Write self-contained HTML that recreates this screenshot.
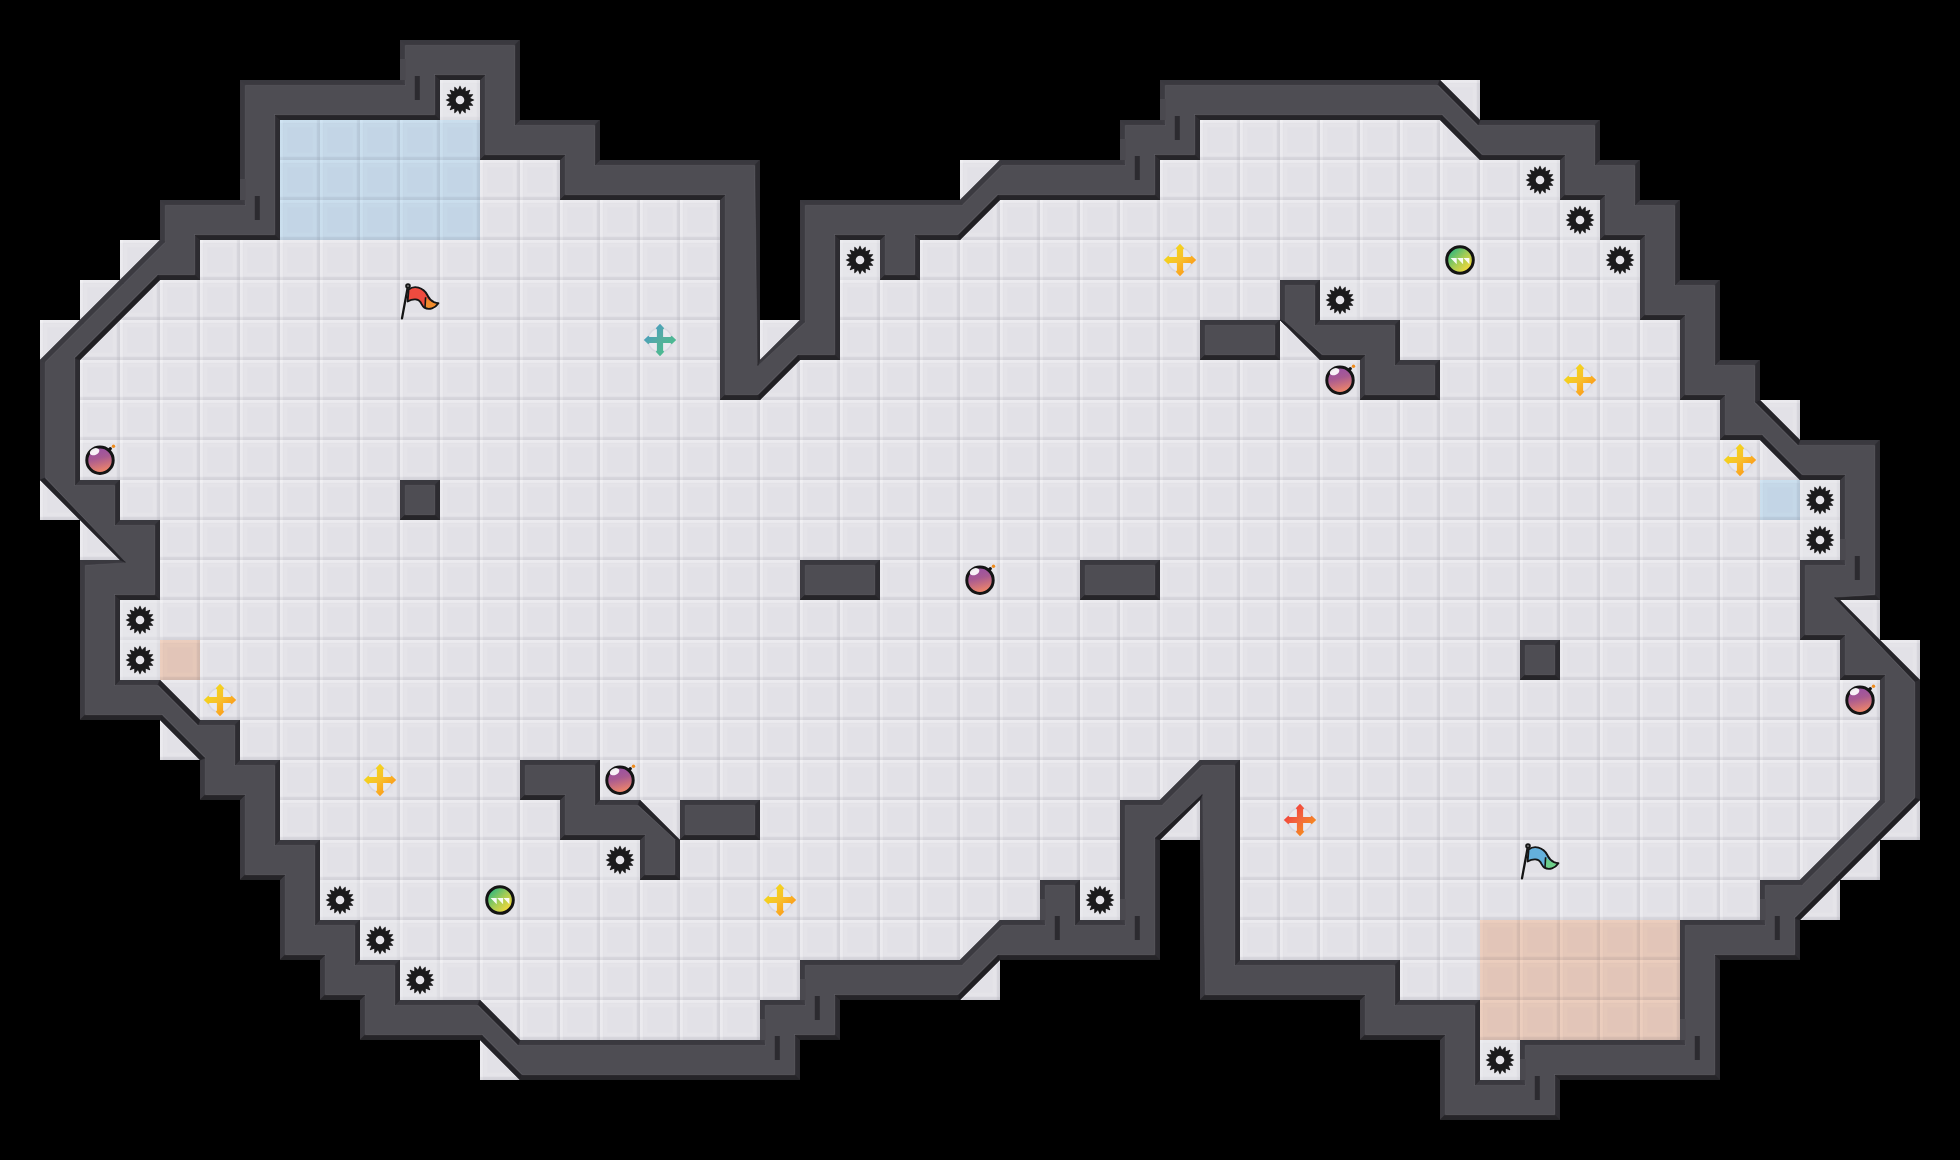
<!DOCTYPE html>
<html><head><meta charset="utf-8"><title>map</title>
<style>html,body{margin:0;padding:0;background:#000;overflow:hidden;width:1960px;height:1160px}svg{display:block;position:absolute;left:0;top:0}</style></head><body>
<svg width="1960" height="1160" viewBox="0 0 1960 1160">
<defs>
<linearGradient id="gt" x1="0" y1="0" x2="0" y2="1"><stop offset="0" stop-color="#fff" stop-opacity=".33"/><stop offset=".72" stop-color="#fff" stop-opacity=".3"/><stop offset="1" stop-color="#fff" stop-opacity="0"/></linearGradient>
<linearGradient id="gl" x1="0" y1="0" x2="1" y2="0"><stop offset="0" stop-color="#fff" stop-opacity=".33"/><stop offset=".72" stop-color="#fff" stop-opacity=".3"/><stop offset="1" stop-color="#fff" stop-opacity="0"/></linearGradient>
<linearGradient id="gb" x1="0" y1="0" x2="0" y2="1"><stop offset="0" stop-color="#6c6c78" stop-opacity="0"/><stop offset=".35" stop-color="#6c6c78" stop-opacity=".095"/><stop offset="1" stop-color="#6c6c78" stop-opacity=".135"/></linearGradient>
<linearGradient id="gr" x1="0" y1="0" x2="1" y2="0"><stop offset="0" stop-color="#6c6c78" stop-opacity="0"/><stop offset=".35" stop-color="#6c6c78" stop-opacity=".095"/><stop offset="1" stop-color="#6c6c78" stop-opacity=".135"/></linearGradient>
<g id="bev"><rect x="0" y="0" width="40" height="3.3" fill="url(#gt)"/><rect x="0" y="0" width="3.3" height="40" fill="url(#gl)"/><rect x="0" y="36.2" width="40" height="3.8" fill="url(#gb)"/><rect x="36.2" y="0" width="3.8" height="40" fill="url(#gr)"/><rect x="5.5" y="5.5" width="29" height="29" fill="none" stroke="#fff" stroke-opacity=".085" stroke-width="3.4"/></g>
<pattern id="pf" width="40" height="40" patternUnits="userSpaceOnUse"><rect width="40" height="40" fill="#e2e1e7"/><use href="#bev"/></pattern>
<g id="sS"><rect width="40" height="40" fill="#e8e7ec" fill-opacity=".5"/><path d="M17.97 9.80 L19.69 5.80 L20.31 5.80 L22.03 9.80 L22.03 9.80 L25.15 6.77 L25.72 7.00 L25.78 11.35 L25.78 11.35 L29.82 9.74 L30.26 10.18 L28.65 14.22 L28.65 14.22 L33.00 14.28 L33.23 14.85 L30.20 17.97 L30.20 17.97 L34.20 19.69 L34.20 20.31 L30.20 22.03 L30.20 22.03 L33.23 25.15 L33.00 25.72 L28.65 25.78 L28.65 25.78 L30.26 29.82 L29.82 30.26 L25.78 28.65 L25.78 28.65 L25.72 33.00 L25.15 33.23 L22.03 30.20 L22.03 30.20 L20.31 34.20 L19.69 34.20 L17.97 30.20 L17.97 30.20 L14.85 33.23 L14.28 33.00 L14.22 28.65 L14.22 28.65 L10.18 30.26 L9.74 29.82 L11.35 25.78 L11.35 25.78 L7.00 25.72 L6.77 25.15 L9.80 22.03 L9.80 22.03 L5.80 20.31 L5.80 19.69 L9.80 17.97 L9.80 17.97 L6.77 14.85 L7.00 14.28 L11.35 14.22 L11.35 14.22 L9.74 10.18 L10.18 9.74 L14.22 11.35 L14.22 11.35 L14.28 7.00 L14.85 6.77 L17.97 9.80Z M24.3 20A4.3 4.3 0 1 0 15.7 20A4.3 4.3 0 1 0 24.3 20Z" fill="#1b1b1c" fill-rule="evenodd"/></g>
<linearGradient id="gY" x1="0" y1="0" x2="1" y2="1"><stop offset=".25" stop-color="#f3d31c"/><stop offset=".5" stop-color="#f8c02c"/><stop offset=".8" stop-color="#fb9c1a"/></linearGradient>
<linearGradient id="gT" x1="0" y1="0" x2="1" y2="1"><stop offset=".2" stop-color="#4a9fbd"/><stop offset=".5" stop-color="#55ae9f"/><stop offset=".85" stop-color="#48be8c"/></linearGradient>
<linearGradient id="gO" x1="0" y1="0" x2="1" y2="1"><stop offset=".25" stop-color="#f2493a"/><stop offset=".5" stop-color="#f26a3e"/><stop offset=".8" stop-color="#f68a1c"/></linearGradient>
<g id="ring"><circle cx="20" cy="20" r="12" fill="#ececf2" fill-opacity=".75" stroke="#cfd0da" stroke-opacity=".65" stroke-width="1.4"/></g>
<g id="sY"><use href="#ring"/><path d="M20 3.8L24.2 8.3L23.1 9.6L23.1 16.9L30.4 16.9L31.7 15.8L36.2 20L31.7 24.2L30.4 23.1L23.1 23.1L23.1 30.4L24.2 31.7L20 36.2L15.8 31.7L16.9 30.4L16.9 23.1L9.6 23.1L8.3 24.2L3.8 20L8.3 15.8L9.6 16.9L16.9 16.9L16.9 9.6L15.8 8.3Z" fill="url(#gY)"/></g>
<g id="sT"><use href="#ring"/><path d="M20 3.8L24.2 8.3L23.1 9.6L23.1 16.9L30.4 16.9L31.7 15.8L36.2 20L31.7 24.2L30.4 23.1L23.1 23.1L23.1 30.4L24.2 31.7L20 36.2L15.8 31.7L16.9 30.4L16.9 23.1L9.6 23.1L8.3 24.2L3.8 20L8.3 15.8L9.6 16.9L16.9 16.9L16.9 9.6L15.8 8.3Z" fill="url(#gT)"/></g>
<g id="sO"><use href="#ring"/><path d="M20 3.8L24.2 8.3L23.1 9.6L23.1 16.9L30.4 16.9L31.7 15.8L36.2 20L31.7 24.2L30.4 23.1L23.1 23.1L23.1 30.4L24.2 31.7L20 36.2L15.8 31.7L16.9 30.4L16.9 23.1L9.6 23.1L8.3 24.2L3.8 20L8.3 15.8L9.6 16.9L16.9 16.9L16.9 9.6L15.8 8.3Z" fill="url(#gO)"/></g>
<linearGradient id="gB" x1="0" y1="0" x2="0.25" y2="1"><stop offset=".1" stop-color="#9950a6"/><stop offset=".5" stop-color="#a85a92"/><stop offset="1" stop-color="#ec846a"/></linearGradient>
<g id="sB"><path d="M28.5 10.5L30.3 8.6" stroke="#141414" stroke-width="3.2" stroke-linecap="round"/><circle cx="20" cy="20.2" r="13.2" fill="url(#gB)" stroke="#141414" stroke-width="3"/><ellipse cx="14.6" cy="11.7" rx="5" ry="3.3" fill="#fff" fill-opacity=".93" transform="rotate(-24 14.6 11.7)"/><circle cx="33.5" cy="6.2" r="1.7" fill="#f08c1c"/></g>
<linearGradient id="gG" x1="0" y1="0" x2="1" y2="1"><stop offset=".15" stop-color="#35b87c"/><stop offset=".5" stop-color="#a4cc55"/><stop offset=".85" stop-color="#f6d83a"/></linearGradient>
<g id="sG"><circle cx="20" cy="20" r="13.3" fill="url(#gG)" stroke="#141414" stroke-width="3"/><path d="M10.6 17.9L16.7 17.9L16.7 24.2Z M17.1 17.9L23.1 17.9L23.1 24.2Z M23.5 17.9L29.4 17.9L29.4 24.2Z" fill="#fff" fill-opacity=".93"/></g>
<g id="sR"><path d="M8.6 9.6C11 7.6 15 6.6 18.5 7.6C22.5 8.8 25.2 11 27 14.5C28.6 17.8 30.6 20.6 34 22.2C35.4 22.8 37 23.2 38.4 23.2C36.8 25.6 34.6 27.6 32 28.4C29.4 29.2 26.6 29 24.4 27.6C22.6 26.4 21.8 24.4 20.8 22.6C19.6 20.6 17.6 19.6 15.4 19.4C12.6 19.2 10.2 20 7.6 21.4Z" fill="#ef4b3f"/><path d="M25.6 17.2C27.2 19.4 30 21.4 34 22.2C35.4 22.8 37 23.2 38.4 23.2C36.8 25.6 34.6 27.6 32 28.4C29.4 29.2 27 29 25 28Z" fill="#f08b2c"/><path d="M8.6 9.6C11 7.6 15 6.6 18.5 7.6C22.5 8.8 25.2 11 27 14.5C28.6 17.8 30.6 20.6 34 22.2C35.4 22.8 37 23.2 38.4 23.2C36.8 25.6 34.6 27.6 32 28.4C29.4 29.2 26.6 29 24.4 27.6C22.6 26.4 21.8 24.4 20.8 22.6C19.6 20.6 17.6 19.6 15.4 19.4C12.6 19.2 10.2 20 7.6 21.4Z" fill="none" stroke="#151515" stroke-width="1.9" stroke-linejoin="round"/><path d="M25.6 17.2L25 28" stroke="#151515" stroke-width="1.6"/><path d="M7.6 8L2 38.4" stroke="#151515" stroke-width="2.3" stroke-linecap="round"/><circle cx="8" cy="6" r="1.8" fill="#bbb" stroke="#151515" stroke-width="2"/></g>
<g id="sL"><path d="M8.6 9.6C11 7.6 15 6.6 18.5 7.6C22.5 8.8 25.2 11 27 14.5C28.6 17.8 30.6 20.6 34 22.2C35.4 22.8 37 23.2 38.4 23.2C36.8 25.6 34.6 27.6 32 28.4C29.4 29.2 26.6 29 24.4 27.6C22.6 26.4 21.8 24.4 20.8 22.6C19.6 20.6 17.6 19.6 15.4 19.4C12.6 19.2 10.2 20 7.6 21.4Z" fill="#64b0dc"/><path d="M25.6 17.2C27.2 19.4 30 21.4 34 22.2C35.4 22.8 37 23.2 38.4 23.2C36.8 25.6 34.6 27.6 32 28.4C29.4 29.2 27 29 25 28Z" fill="#6dce8a"/><path d="M8.6 9.6C11 7.6 15 6.6 18.5 7.6C22.5 8.8 25.2 11 27 14.5C28.6 17.8 30.6 20.6 34 22.2C35.4 22.8 37 23.2 38.4 23.2C36.8 25.6 34.6 27.6 32 28.4C29.4 29.2 26.6 29 24.4 27.6C22.6 26.4 21.8 24.4 20.8 22.6C19.6 20.6 17.6 19.6 15.4 19.4C12.6 19.2 10.2 20 7.6 21.4Z" fill="none" stroke="#151515" stroke-width="1.9" stroke-linejoin="round"/><path d="M25.6 17.2L25 28" stroke="#151515" stroke-width="1.6"/><path d="M7.6 8L2 38.4" stroke="#151515" stroke-width="2.3" stroke-linecap="round"/><circle cx="8" cy="6" r="1.8" fill="#bbb" stroke="#151515" stroke-width="2"/></g>
<clipPath id="cw"><path d="M400 40h120v40h-120ZM240 80h200v40h-200ZM480 80h40v40h-40ZM1160 80h280v40h-280ZM1440 80L1480 120L1440 120ZM240 120h40v40h-40ZM480 120h120v40h-120ZM1120 120h80v40h-80ZM1440 120L1480 120L1480 160ZM1480 120h120v40h-120ZM240 160h40v40h-40ZM560 160h200v40h-200ZM1000 160L1000 200L960 200ZM1000 160h160v40h-160ZM1560 160h80v40h-80ZM160 200h120v40h-120ZM720 200h40v40h-40ZM800 200h160v40h-160ZM960 200L1000 200L960 240ZM1600 200h80v40h-80ZM160 240L160 280L120 280ZM160 240h40v40h-40ZM720 240h40v40h-40ZM800 240h40v40h-40ZM880 240h40v40h-40ZM1640 240h40v40h-40ZM120 280L120 320L80 320ZM120 280L160 280L120 320ZM720 280h40v40h-40ZM800 280h40v40h-40ZM1280 280h40v40h-40ZM1640 280h80v40h-80ZM80 320L80 360L40 360ZM80 320L120 320L80 360ZM720 320h40v40h-40ZM800 320L800 360L760 360ZM800 320h40v40h-40ZM1200 320h80v40h-80ZM1280 320L1320 320L1320 360ZM1320 320h80v40h-80ZM1680 320h40v40h-40ZM40 360h40v40h-40ZM720 360h40v40h-40ZM760 360L800 360L760 400ZM1360 360h80v40h-80ZM1680 360h80v40h-80ZM40 400h40v40h-40ZM1720 400h40v40h-40ZM1760 400L1800 440L1760 440ZM40 440h40v40h-40ZM1760 440L1800 440L1800 480ZM1800 440h80v40h-80ZM40 480L80 480L80 520ZM80 480h40v40h-40ZM400 480h40v40h-40ZM1840 480h40v40h-40ZM80 520L120 520L120 560ZM120 520h40v40h-40ZM1840 520h40v40h-40ZM80 560h80v40h-80ZM800 560h80v40h-80ZM1080 560h80v40h-80ZM1800 560h80v40h-80ZM80 600h40v40h-40ZM1800 600h40v40h-40ZM1840 600L1880 640L1840 640ZM80 640h40v40h-40ZM1520 640h40v40h-40ZM1840 640h40v40h-40ZM1880 640L1920 680L1880 680ZM80 680h80v40h-80ZM160 680L200 720L160 720ZM1880 680h40v40h-40ZM160 720L200 720L200 760ZM200 720h40v40h-40ZM1880 720h40v40h-40ZM200 760h80v40h-80ZM520 760h80v40h-80ZM1200 760L1200 800L1160 800ZM1200 760h40v40h-40ZM1880 760h40v40h-40ZM240 800h40v40h-40ZM560 800h80v40h-80ZM640 800L680 840L640 840ZM680 800h80v40h-80ZM1120 800h40v40h-40ZM1160 800L1200 800L1160 840ZM1200 800h40v40h-40ZM1880 800L1880 840L1840 840ZM1880 800L1920 800L1880 840ZM240 840h80v40h-80ZM640 840h40v40h-40ZM1120 840h40v40h-40ZM1200 840h40v40h-40ZM1840 840L1840 880L1800 880ZM1840 840L1880 840L1840 880ZM280 880h40v40h-40ZM1040 880h40v40h-40ZM1120 880h40v40h-40ZM1200 880h40v40h-40ZM1760 880h40v40h-40ZM1800 880L1840 880L1800 920ZM280 920h80v40h-80ZM1000 920L1000 960L960 960ZM1000 920h160v40h-160ZM1200 920h40v40h-40ZM1680 920h120v40h-120ZM320 960h80v40h-80ZM800 960h160v40h-160ZM960 960L1000 960L960 1000ZM1200 960h200v40h-200ZM1680 960h40v40h-40ZM360 1000h120v40h-120ZM480 1000L520 1040L480 1040ZM760 1000h80v40h-80ZM1360 1000h120v40h-120ZM1680 1000h40v40h-40ZM480 1040L520 1040L520 1080ZM520 1040h280v40h-280ZM1440 1040h40v40h-40ZM1520 1040h200v40h-200ZM1440 1080h120v40h-120Z"/></clipPath>
</defs>
<rect width="1960" height="1160" fill="#000"/>
<path d="M440 80h40v40h-40ZM1440 80h40v40h-40ZM280 120h200v40h-200ZM1200 120h280v40h-280ZM280 160h280v40h-280ZM960 160h40v40h-40ZM1160 160h400v40h-400ZM280 200h440v40h-440ZM960 200h640v40h-640ZM120 240h40v40h-40ZM200 240h520v40h-520ZM840 240h40v40h-40ZM920 240h720v40h-720ZM80 280h640v40h-640ZM840 280h440v40h-440ZM1320 280h320v40h-320ZM40 320h680v40h-680ZM760 320h40v40h-40ZM840 320h360v40h-360ZM1280 320h40v40h-40ZM1400 320h280v40h-280ZM80 360h640v40h-640ZM760 360h600v40h-600ZM1440 360h240v40h-240ZM80 400h1640v40h-1640ZM1760 400h40v40h-40ZM80 440h1720v40h-1720ZM40 480h40v40h-40ZM120 480h280v40h-280ZM440 480h1400v40h-1400ZM80 520h40v40h-40ZM160 520h1680v40h-1680ZM160 560h640v40h-640ZM880 560h200v40h-200ZM1160 560h640v40h-640ZM120 600h1680v40h-1680ZM1840 600h40v40h-40ZM120 640h1400v40h-1400ZM1560 640h280v40h-280ZM1880 640h40v40h-40ZM160 680h1720v40h-1720ZM160 720h40v40h-40ZM240 720h1640v40h-1640ZM280 760h240v40h-240ZM600 760h600v40h-600ZM1240 760h640v40h-640ZM280 800h280v40h-280ZM640 800h40v40h-40ZM760 800h360v40h-360ZM1160 800h40v40h-40ZM1240 800h680v40h-680ZM320 840h320v40h-320ZM680 840h440v40h-440ZM1240 840h640v40h-640ZM320 880h720v40h-720ZM1080 880h40v40h-40ZM1240 880h520v40h-520ZM1800 880h40v40h-40ZM360 920h640v40h-640ZM1240 920h440v40h-440ZM400 960h400v40h-400ZM960 960h40v40h-40ZM1400 960h280v40h-280ZM480 1000h280v40h-280ZM1480 1000h200v40h-200ZM480 1040h40v40h-40ZM1480 1040h40v40h-40Z" fill="url(#pf)"/>
<path d="M160 640h40v40h-40ZM1480 920h200v40h-200ZM1480 960h200v40h-200ZM1480 1000h200v40h-200Z" fill="#ffe0cb" style="mix-blend-mode:multiply"/>
<path d="M280 120h200v40h-200ZM280 160h200v40h-200ZM280 200h200v40h-200ZM1760 480h40v40h-40Z" fill="#dcf2fe" style="mix-blend-mode:multiply"/>
<path d="M400 40h120v40h-120ZM240 80h200v40h-200ZM480 80h40v40h-40ZM1160 80h280v40h-280ZM1440 80L1480 120L1440 120ZM240 120h40v40h-40ZM480 120h120v40h-120ZM1120 120h80v40h-80ZM1440 120L1480 120L1480 160ZM1480 120h120v40h-120ZM240 160h40v40h-40ZM560 160h200v40h-200ZM1000 160L1000 200L960 200ZM1000 160h160v40h-160ZM1560 160h80v40h-80ZM160 200h120v40h-120ZM720 200h40v40h-40ZM800 200h160v40h-160ZM960 200L1000 200L960 240ZM1600 200h80v40h-80ZM160 240L160 280L120 280ZM160 240h40v40h-40ZM720 240h40v40h-40ZM800 240h40v40h-40ZM880 240h40v40h-40ZM1640 240h40v40h-40ZM120 280L120 320L80 320ZM120 280L160 280L120 320ZM720 280h40v40h-40ZM800 280h40v40h-40ZM1280 280h40v40h-40ZM1640 280h80v40h-80ZM80 320L80 360L40 360ZM80 320L120 320L80 360ZM720 320h40v40h-40ZM800 320L800 360L760 360ZM800 320h40v40h-40ZM1200 320h80v40h-80ZM1280 320L1320 320L1320 360ZM1320 320h80v40h-80ZM1680 320h40v40h-40ZM40 360h40v40h-40ZM720 360h40v40h-40ZM760 360L800 360L760 400ZM1360 360h80v40h-80ZM1680 360h80v40h-80ZM40 400h40v40h-40ZM1720 400h40v40h-40ZM1760 400L1800 440L1760 440ZM40 440h40v40h-40ZM1760 440L1800 440L1800 480ZM1800 440h80v40h-80ZM40 480L80 480L80 520ZM80 480h40v40h-40ZM400 480h40v40h-40ZM1840 480h40v40h-40ZM80 520L120 520L120 560ZM120 520h40v40h-40ZM1840 520h40v40h-40ZM80 560h80v40h-80ZM800 560h80v40h-80ZM1080 560h80v40h-80ZM1800 560h80v40h-80ZM80 600h40v40h-40ZM1800 600h40v40h-40ZM1840 600L1880 640L1840 640ZM80 640h40v40h-40ZM1520 640h40v40h-40ZM1840 640h40v40h-40ZM1880 640L1920 680L1880 680ZM80 680h80v40h-80ZM160 680L200 720L160 720ZM1880 680h40v40h-40ZM160 720L200 720L200 760ZM200 720h40v40h-40ZM1880 720h40v40h-40ZM200 760h80v40h-80ZM520 760h80v40h-80ZM1200 760L1200 800L1160 800ZM1200 760h40v40h-40ZM1880 760h40v40h-40ZM240 800h40v40h-40ZM560 800h80v40h-80ZM640 800L680 840L640 840ZM680 800h80v40h-80ZM1120 800h40v40h-40ZM1160 800L1200 800L1160 840ZM1200 800h40v40h-40ZM1880 800L1880 840L1840 840ZM1880 800L1920 800L1880 840ZM240 840h80v40h-80ZM640 840h40v40h-40ZM1120 840h40v40h-40ZM1200 840h40v40h-40ZM1840 840L1840 880L1800 880ZM1840 840L1880 840L1840 880ZM280 880h40v40h-40ZM1040 880h40v40h-40ZM1120 880h40v40h-40ZM1200 880h40v40h-40ZM1760 880h40v40h-40ZM1800 880L1840 880L1800 920ZM280 920h80v40h-80ZM1000 920L1000 960L960 960ZM1000 920h160v40h-160ZM1200 920h40v40h-40ZM1680 920h120v40h-120ZM320 960h80v40h-80ZM800 960h160v40h-160ZM960 960L1000 960L960 1000ZM1200 960h200v40h-200ZM1680 960h40v40h-40ZM360 1000h120v40h-120ZM480 1000L520 1040L480 1040ZM760 1000h80v40h-80ZM1360 1000h120v40h-120ZM1680 1000h40v40h-40ZM480 1040L520 1040L520 1080ZM520 1040h280v40h-280ZM1440 1040h40v40h-40ZM1520 1040h200v40h-200ZM1440 1080h120v40h-120Z" fill="#4e4d53"/>
<g clip-path="url(#cw)" stroke-width=".6" stroke-linejoin="round">
<path d="M40 360L40 480L46.0 477.5L46.0 362.5ZM80 560L80 720L86.0 714.0L86.0 566.0ZM160 200L160 240L166.0 242.5L166.0 206.0ZM200 760L200 800L206.0 794.0L206.0 757.5ZM240 80L240 200L246.0 206.0L246.0 86.0ZM240 800L240 880L246.0 874.0L246.0 794.0ZM280 880L280 960L286.0 954.0L286.0 874.0ZM320 960L320 1000L326.0 994.0L326.0 954.0ZM360 1000L360 1040L366.0 1034.0L366.0 994.0ZM400 40L400 80L406.0 86.0L406.0 46.0ZM400 480L400 520L406.0 514.0L406.0 486.0ZM480 80L480 160L486.0 154.0L486.0 74.0ZM520 760L520 800L526.0 794.0L526.0 766.0ZM560 160L560 200L566.0 194.0L566.0 154.0ZM560 800L560 840L566.0 834.0L566.0 794.0ZM640 840L640 880L646.0 874.0L646.0 834.0ZM680 800L680 840L686.0 834.0L686.0 806.0ZM720 200L720 400L726.0 394.0L726.0 194.0ZM760 1000L760 1040L766.0 1046.0L766.0 1006.0ZM800 200L800 320L806.0 322.5L806.0 206.0ZM800 560L800 600L806.0 594.0L806.0 566.0ZM800 960L800 1000L806.0 1006.0L806.0 966.0ZM880 240L880 280L886.0 274.0L886.0 234.0ZM1040 880L1040 920L1046.0 926.0L1046.0 886.0ZM1080 560L1080 600L1086.0 594.0L1086.0 566.0ZM1120 120L1120 160L1126.0 166.0L1126.0 126.0ZM1120 800L1120 920L1126.0 926.0L1126.0 806.0ZM1160 80L1160 120L1166.0 126.0L1166.0 86.0ZM1200 320L1200 360L1206.0 354.0L1206.0 326.0ZM1200 800L1200 1000L1206.0 994.0L1202.8 793.2ZM1280 280L1280 320L1286.0 326.0L1286.0 286.0ZM1360 360L1360 400L1366.0 394.0L1366.0 354.0ZM1360 1000L1360 1040L1366.0 1034.0L1366.0 994.0ZM1440 1040L1440 1120L1446.0 1114.0L1446.0 1034.0ZM1520 640L1520 680L1526.0 674.0L1526.0 646.0ZM1520 1040L1520 1080L1526.0 1086.0L1526.0 1046.0ZM1560 160L1560 200L1566.0 194.0L1566.0 154.0ZM1600 200L1600 240L1606.0 234.0L1606.0 194.0ZM1640 240L1640 320L1646.0 314.0L1646.0 234.0ZM1680 320L1680 400L1686.0 394.0L1686.0 314.0ZM1680 920L1680 1040L1686.0 1046.0L1686.0 926.0ZM1720 400L1720 440L1726.0 434.0L1726.0 394.0ZM1760 880L1760 920L1766.0 926.0L1766.0 886.0ZM1800 560L1800 640L1806.0 634.0L1806.0 566.0ZM1840 480L1840 560L1846.0 566.0L1846.0 474.0ZM1840 640L1840 680L1846.0 674.0L1846.0 634.0ZM1880 680L1880 800L1886.0 802.5L1886.0 674.0ZM80 480L120 480L114.0 486.0L74.0 486.0ZM80 560L120 560L126.8 562.8L86.0 566.0ZM120 520L160 520L154.0 526.0L114.0 526.0ZM120 680L160 680L157.5 686.0L114.0 686.0ZM160 200L240 200L246.0 206.0L166.0 206.0ZM200 720L240 720L234.0 726.0L197.5 726.0ZM240 80L400 80L406.0 86.0L246.0 86.0ZM240 760L280 760L274.0 766.0L234.0 766.0ZM280 840L320 840L314.0 846.0L274.0 846.0ZM320 920L360 920L354.0 926.0L314.0 926.0ZM360 960L400 960L394.0 966.0L354.0 966.0ZM400 40L520 40L514.0 46.0L406.0 46.0ZM400 480L440 480L434.0 486.0L406.0 486.0ZM400 1000L480 1000L477.5 1006.0L394.0 1006.0ZM520 120L600 120L594.0 126.0L514.0 126.0ZM520 760L600 760L594.0 766.0L526.0 766.0ZM520 1040L760 1040L766.0 1046.0L517.5 1046.0ZM600 160L760 160L754.0 166.0L594.0 166.0ZM600 800L640 800L637.5 806.0L594.0 806.0ZM680 800L760 800L754.0 806.0L686.0 806.0ZM760 1000L800 1000L806.0 1006.0L766.0 1006.0ZM800 200L960 200L962.5 206.0L806.0 206.0ZM800 560L880 560L874.0 566.0L806.0 566.0ZM800 960L960 960L962.5 966.0L806.0 966.0ZM1000 160L1120 160L1126.0 166.0L1002.5 166.0ZM1000 920L1040 920L1046.0 926.0L1002.5 926.0ZM1040 880L1080 880L1074.0 886.0L1046.0 886.0ZM1080 560L1160 560L1154.0 566.0L1086.0 566.0ZM1080 920L1120 920L1126.0 926.0L1074.0 926.0ZM1120 120L1160 120L1166.0 126.0L1126.0 126.0ZM1120 800L1160 800L1162.5 806.0L1126.0 806.0ZM1160 80L1440 80L1437.5 86.0L1166.0 86.0ZM1200 320L1280 320L1286.0 326.0L1206.0 326.0ZM1200 760L1240 760L1234.0 766.0L1202.5 766.0ZM1240 960L1400 960L1394.0 966.0L1234.0 966.0ZM1280 280L1320 280L1314.0 286.0L1286.0 286.0ZM1320 320L1400 320L1394.0 326.0L1314.0 326.0ZM1400 360L1440 360L1434.0 366.0L1394.0 366.0ZM1400 1000L1480 1000L1474.0 1006.0L1394.0 1006.0ZM1480 120L1600 120L1594.0 126.0L1477.5 126.0ZM1480 1080L1520 1080L1526.0 1086.0L1474.0 1086.0ZM1520 640L1560 640L1554.0 646.0L1526.0 646.0ZM1520 1040L1680 1040L1686.0 1046.0L1526.0 1046.0ZM1600 160L1640 160L1634.0 166.0L1594.0 166.0ZM1640 200L1680 200L1674.0 206.0L1634.0 206.0ZM1680 280L1720 280L1714.0 286.0L1674.0 286.0ZM1680 920L1760 920L1766.0 926.0L1686.0 926.0ZM1720 360L1760 360L1754.0 366.0L1714.0 366.0ZM1760 880L1800 880L1802.5 886.0L1766.0 886.0ZM1800 440L1880 440L1874.0 446.0L1797.5 446.0ZM1800 560L1840 560L1846.0 566.0L1806.0 566.0ZM80 320L40 360L46.0 362.5L84.2 324.2ZM120 280L80 320L84.2 324.2L124.2 284.2ZM160 240L120 280L124.2 284.2L166.0 242.5ZM800 320L760 360L757.2 366.8L806.0 322.5ZM1000 160L960 200L962.5 206.0L1002.5 166.0ZM1000 920L960 960L962.5 966.0L1002.5 926.0ZM1200 760L1160 800L1162.5 806.0L1202.5 766.0ZM1840 840L1800 880L1802.5 886.0L1844.2 844.2ZM1880 800L1840 840L1844.2 844.2L1886.0 802.5Z" fill="#545359" stroke="none"/>
<path d="M160 680L200 720L197.5 726.0L157.5 686.0ZM480 1000L520 1040L517.5 1046.0L477.5 1006.0ZM640 800L680 840L682.8 846.8L637.5 806.0ZM1440 80L1480 120L1477.5 126.0L1437.5 86.0ZM1760 400L1800 440L1797.5 446.0L1754.0 402.5ZM1840 600L1920 680L1914.0 682.5L1833.2 597.2ZM80 360L80 480L74.0 486.0L74.0 357.5ZM120 480L120 520L114.0 526.0L114.0 486.0ZM120 600L120 680L114.0 686.0L114.0 594.0ZM160 520L160 600L154.0 594.0L154.0 526.0ZM200 240L200 280L194.0 274.0L194.0 234.0ZM240 720L240 760L234.0 766.0L234.0 726.0ZM280 120L280 240L274.0 234.0L274.0 114.0ZM280 760L280 840L274.0 846.0L274.0 766.0ZM320 840L320 920L314.0 926.0L314.0 846.0ZM360 920L360 960L354.0 966.0L354.0 926.0ZM400 960L400 1000L394.0 1006.0L394.0 966.0ZM440 80L440 120L434.0 114.0L434.0 74.0ZM440 480L440 520L434.0 514.0L434.0 486.0ZM520 40L520 120L514.0 126.0L514.0 46.0ZM600 120L600 160L594.0 166.0L594.0 126.0ZM600 760L600 800L594.0 806.0L594.0 766.0ZM680 840L680 880L674.0 874.0L674.0 840.0ZM760 160L760 360L757.2 366.8L754.0 166.0ZM760 800L760 840L754.0 834.0L754.0 806.0ZM800 1040L800 1080L794.0 1074.0L794.0 1034.0ZM840 240L840 360L834.0 354.0L834.0 234.0ZM840 1000L840 1040L834.0 1034.0L834.0 994.0ZM880 560L880 600L874.0 594.0L874.0 566.0ZM920 240L920 280L914.0 274.0L914.0 234.0ZM1080 880L1080 920L1074.0 926.0L1074.0 886.0ZM1160 160L1160 200L1154.0 194.0L1154.0 154.0ZM1160 560L1160 600L1154.0 594.0L1154.0 566.0ZM1160 840L1160 960L1154.0 954.0L1154.0 837.5ZM1200 120L1200 160L1194.0 154.0L1194.0 114.0ZM1240 760L1240 960L1234.0 966.0L1234.0 766.0ZM1280 320L1280 360L1274.0 354.0L1274.0 326.0ZM1320 280L1320 320L1314.0 326.0L1314.0 286.0ZM1400 320L1400 360L1394.0 366.0L1394.0 326.0ZM1400 960L1400 1000L1394.0 1006.0L1394.0 966.0ZM1440 360L1440 400L1434.0 394.0L1434.0 366.0ZM1480 1000L1480 1080L1474.0 1086.0L1474.0 1006.0ZM1560 640L1560 680L1554.0 674.0L1554.0 646.0ZM1560 1080L1560 1120L1554.0 1114.0L1554.0 1074.0ZM1600 120L1600 160L1594.0 166.0L1594.0 126.0ZM1640 160L1640 200L1634.0 206.0L1634.0 166.0ZM1680 200L1680 280L1674.0 286.0L1674.0 206.0ZM1720 280L1720 360L1714.0 366.0L1714.0 286.0ZM1720 960L1720 1080L1714.0 1074.0L1714.0 954.0ZM1760 360L1760 400L1754.0 402.5L1754.0 366.0ZM1800 920L1800 960L1794.0 954.0L1794.0 917.5ZM1880 440L1880 600L1874.0 594.0L1874.0 446.0ZM1920 680L1920 800L1914.0 797.5L1914.0 682.5ZM40 480L120 560L126.8 562.8L46.0 477.5ZM160 720L200 760L206.0 757.5L162.5 714.0ZM480 1040L520 1080L522.5 1074.0L482.5 1034.0ZM1280 320L1320 360L1322.5 354.0L1286.8 322.8ZM1440 120L1480 160L1482.5 154.0L1442.5 114.0ZM1760 440L1800 480L1802.5 474.0L1762.5 434.0ZM80 720L160 720L162.5 714.0L86.0 714.0ZM120 600L160 600L154.0 594.0L114.0 594.0ZM160 280L200 280L194.0 274.0L157.5 274.0ZM200 240L280 240L274.0 234.0L194.0 234.0ZM200 800L240 800L246.0 794.0L206.0 794.0ZM240 880L280 880L286.0 874.0L246.0 874.0ZM280 120L440 120L434.0 114.0L274.0 114.0ZM280 960L320 960L326.0 954.0L286.0 954.0ZM320 1000L360 1000L366.0 994.0L326.0 994.0ZM360 1040L480 1040L482.5 1034.0L366.0 1034.0ZM400 520L440 520L434.0 514.0L406.0 514.0ZM440 80L480 80L486.0 74.0L434.0 74.0ZM480 160L560 160L566.0 154.0L486.0 154.0ZM520 800L560 800L566.0 794.0L526.0 794.0ZM520 1080L800 1080L794.0 1074.0L522.5 1074.0ZM560 200L720 200L726.0 194.0L566.0 194.0ZM560 840L640 840L646.0 834.0L566.0 834.0ZM640 880L680 880L674.0 874.0L646.0 874.0ZM680 840L760 840L754.0 834.0L686.0 834.0ZM720 400L760 400L757.5 394.0L726.0 394.0ZM800 360L840 360L834.0 354.0L797.5 354.0ZM800 600L880 600L874.0 594.0L806.0 594.0ZM800 1040L840 1040L834.0 1034.0L794.0 1034.0ZM840 240L880 240L886.0 234.0L834.0 234.0ZM840 1000L960 1000L957.5 994.0L834.0 994.0ZM880 280L920 280L914.0 274.0L886.0 274.0ZM920 240L960 240L957.5 234.0L914.0 234.0ZM1000 200L1160 200L1154.0 194.0L997.5 194.0ZM1000 960L1160 960L1154.0 954.0L997.5 954.0ZM1080 600L1160 600L1154.0 594.0L1086.0 594.0ZM1160 160L1200 160L1194.0 154.0L1154.0 154.0ZM1200 120L1440 120L1442.5 114.0L1194.0 114.0ZM1200 360L1280 360L1274.0 354.0L1206.0 354.0ZM1200 1000L1360 1000L1366.0 994.0L1206.0 994.0ZM1320 360L1360 360L1366.0 354.0L1322.5 354.0ZM1360 400L1440 400L1434.0 394.0L1366.0 394.0ZM1360 1040L1440 1040L1446.0 1034.0L1366.0 1034.0ZM1440 1120L1560 1120L1554.0 1114.0L1446.0 1114.0ZM1480 160L1560 160L1566.0 154.0L1482.5 154.0ZM1520 680L1560 680L1554.0 674.0L1526.0 674.0ZM1560 200L1600 200L1606.0 194.0L1566.0 194.0ZM1560 1080L1720 1080L1714.0 1074.0L1554.0 1074.0ZM1600 240L1640 240L1646.0 234.0L1606.0 234.0ZM1640 320L1680 320L1686.0 314.0L1646.0 314.0ZM1680 400L1720 400L1726.0 394.0L1686.0 394.0ZM1720 440L1760 440L1762.5 434.0L1726.0 434.0ZM1720 960L1800 960L1794.0 954.0L1714.0 954.0ZM1800 480L1840 480L1846.0 474.0L1802.5 474.0ZM1800 640L1840 640L1846.0 634.0L1806.0 634.0ZM1840 600L1880 600L1874.0 594.0L1833.2 597.2ZM1840 680L1880 680L1886.0 674.0L1846.0 674.0ZM120 320L80 360L74.0 357.5L115.8 315.8ZM160 280L120 320L115.8 315.8L157.5 274.0ZM800 360L760 400L757.5 394.0L797.5 354.0ZM1000 200L960 240L957.5 234.0L997.5 194.0ZM1000 960L960 1000L957.5 994.0L997.5 954.0ZM1200 800L1160 840L1154.0 837.5L1202.8 793.2ZM1840 880L1800 920L1794.0 917.5L1835.8 875.8ZM1880 840L1840 880L1835.8 875.8L1875.8 835.8ZM1920 800L1880 840L1875.8 835.8L1914.0 797.5Z" fill="#59585e" stroke="none"/>
<path d="M40 360L40 480L44.7 478.1L44.7 361.9ZM80 560L80 720L84.7 715.3L84.7 564.7ZM160 200L160 240L164.7 241.9L164.7 204.7ZM200 760L200 800L204.7 795.3L204.7 758.1ZM240 80L240 200L244.7 204.7L244.7 84.7ZM240 800L240 880L244.7 875.3L244.7 795.3ZM280 880L280 960L284.7 955.3L284.7 875.3ZM320 960L320 1000L324.7 995.3L324.7 955.3ZM360 1000L360 1040L364.7 1035.3L364.7 995.3ZM400 40L400 80L404.7 84.7L404.7 44.7ZM400 480L400 520L404.7 515.3L404.7 484.7ZM480 80L480 160L484.7 155.3L484.7 75.3ZM520 760L520 800L524.7 795.3L524.7 764.7ZM560 160L560 200L564.7 195.3L564.7 155.3ZM560 800L560 840L564.7 835.3L564.7 795.3ZM640 840L640 880L644.7 875.3L644.7 835.3ZM680 800L680 840L684.7 835.3L684.7 804.7ZM720 200L720 400L724.7 395.3L724.7 195.3ZM760 1000L760 1040L764.7 1044.7L764.7 1004.7ZM800 200L800 320L804.7 321.9L804.7 204.7ZM800 560L800 600L804.7 595.3L804.7 564.7ZM800 960L800 1000L804.7 1004.7L804.7 964.7ZM880 240L880 280L884.7 275.3L884.7 235.3ZM1040 880L1040 920L1044.7 924.7L1044.7 884.7ZM1080 560L1080 600L1084.7 595.3L1084.7 564.7ZM1120 120L1120 160L1124.7 164.7L1124.7 124.7ZM1120 800L1120 920L1124.7 924.7L1124.7 804.7ZM1160 80L1160 120L1164.7 124.7L1164.7 84.7ZM1200 320L1200 360L1204.7 355.3L1204.7 324.7ZM1200 800L1200 1000L1204.7 995.3L1202.2 794.6ZM1280 280L1280 320L1284.7 324.7L1284.7 284.7ZM1360 360L1360 400L1364.7 395.3L1364.7 355.3ZM1360 1000L1360 1040L1364.7 1035.3L1364.7 995.3ZM1440 1040L1440 1120L1444.7 1115.3L1444.7 1035.3ZM1520 640L1520 680L1524.7 675.3L1524.7 644.7ZM1520 1040L1520 1080L1524.7 1084.7L1524.7 1044.7ZM1560 160L1560 200L1564.7 195.3L1564.7 155.3ZM1600 200L1600 240L1604.7 235.3L1604.7 195.3ZM1640 240L1640 320L1644.7 315.3L1644.7 235.3ZM1680 320L1680 400L1684.7 395.3L1684.7 315.3ZM1680 920L1680 1040L1684.7 1044.7L1684.7 924.7ZM1720 400L1720 440L1724.7 435.3L1724.7 395.3ZM1760 880L1760 920L1764.7 924.7L1764.7 884.7ZM1800 560L1800 640L1804.7 635.3L1804.7 564.7ZM1840 480L1840 560L1844.7 564.7L1844.7 475.3ZM1840 640L1840 680L1844.7 675.3L1844.7 635.3ZM1880 680L1880 800L1884.7 801.9L1884.7 675.3Z" fill="#3c3b41" stroke="#3c3b41"/>
<path d="M80 480L120 480L115.3 484.7L75.3 484.7ZM80 560L120 560L125.4 562.2L84.7 564.7ZM120 520L160 520L155.3 524.7L115.3 524.7ZM120 680L160 680L158.1 684.7L115.3 684.7ZM160 200L240 200L244.7 204.7L164.7 204.7ZM200 720L240 720L235.3 724.7L198.1 724.7ZM240 80L400 80L404.7 84.7L244.7 84.7ZM240 760L280 760L275.3 764.7L235.3 764.7ZM280 840L320 840L315.3 844.7L275.3 844.7ZM320 920L360 920L355.3 924.7L315.3 924.7ZM360 960L400 960L395.3 964.7L355.3 964.7ZM400 40L520 40L515.3 44.7L404.7 44.7ZM400 480L440 480L435.3 484.7L404.7 484.7ZM400 1000L480 1000L478.1 1004.7L395.3 1004.7ZM520 120L600 120L595.3 124.7L515.3 124.7ZM520 760L600 760L595.3 764.7L524.7 764.7ZM520 1040L760 1040L764.7 1044.7L518.1 1044.7ZM600 160L760 160L755.3 164.7L595.3 164.7ZM600 800L640 800L638.1 804.7L595.3 804.7ZM680 800L760 800L755.3 804.7L684.7 804.7ZM760 1000L800 1000L804.7 1004.7L764.7 1004.7ZM800 200L960 200L961.9 204.7L804.7 204.7ZM800 560L880 560L875.3 564.7L804.7 564.7ZM800 960L960 960L961.9 964.7L804.7 964.7ZM1000 160L1120 160L1124.7 164.7L1001.9 164.7ZM1000 920L1040 920L1044.7 924.7L1001.9 924.7ZM1040 880L1080 880L1075.3 884.7L1044.7 884.7ZM1080 560L1160 560L1155.3 564.7L1084.7 564.7ZM1080 920L1120 920L1124.7 924.7L1075.3 924.7ZM1120 120L1160 120L1164.7 124.7L1124.7 124.7ZM1120 800L1160 800L1161.9 804.7L1124.7 804.7ZM1160 80L1440 80L1438.1 84.7L1164.7 84.7ZM1200 320L1280 320L1284.7 324.7L1204.7 324.7ZM1200 760L1240 760L1235.3 764.7L1201.9 764.7ZM1240 960L1400 960L1395.3 964.7L1235.3 964.7ZM1280 280L1320 280L1315.3 284.7L1284.7 284.7ZM1320 320L1400 320L1395.3 324.7L1315.3 324.7ZM1400 360L1440 360L1435.3 364.7L1395.3 364.7ZM1400 1000L1480 1000L1475.3 1004.7L1395.3 1004.7ZM1480 120L1600 120L1595.3 124.7L1478.1 124.7ZM1480 1080L1520 1080L1524.7 1084.7L1475.3 1084.7ZM1520 640L1560 640L1555.3 644.7L1524.7 644.7ZM1520 1040L1680 1040L1684.7 1044.7L1524.7 1044.7ZM1600 160L1640 160L1635.3 164.7L1595.3 164.7ZM1640 200L1680 200L1675.3 204.7L1635.3 204.7ZM1680 280L1720 280L1715.3 284.7L1675.3 284.7ZM1680 920L1760 920L1764.7 924.7L1684.7 924.7ZM1720 360L1760 360L1755.3 364.7L1715.3 364.7ZM1760 880L1800 880L1801.9 884.7L1764.7 884.7ZM1800 440L1880 440L1875.3 444.7L1798.1 444.7ZM1800 560L1840 560L1844.7 564.7L1804.7 564.7Z" fill="#3a393f" stroke="#3a393f"/>
<path d="M80 320L40 360L44.7 361.9L83.3 323.3ZM120 280L80 320L83.3 323.3L123.3 283.3ZM160 240L120 280L123.3 283.3L164.7 241.9ZM800 320L760 360L757.8 365.4L804.7 321.9ZM1000 160L960 200L961.9 204.7L1001.9 164.7ZM1000 920L960 960L961.9 964.7L1001.9 924.7ZM1200 760L1160 800L1161.9 804.7L1201.9 764.7ZM1840 840L1800 880L1801.9 884.7L1843.3 843.3ZM1880 800L1840 840L1843.3 843.3L1884.7 801.9Z" fill="#3b3a40" stroke="#3b3a40"/>
<path d="M160 680L200 720L198.1 724.7L158.1 684.7ZM480 1000L520 1040L518.1 1044.7L478.1 1004.7ZM640 800L680 840L682.2 845.4L638.1 804.7ZM1440 80L1480 120L1478.1 124.7L1438.1 84.7ZM1760 400L1800 440L1798.1 444.7L1755.3 401.9ZM1840 600L1920 680L1915.3 681.9L1834.6 597.8Z" fill="#252429" stroke="#252429"/>
<path d="M80 360L80 480L75.3 484.7L75.3 358.1ZM120 480L120 520L115.3 524.7L115.3 484.7ZM120 600L120 680L115.3 684.7L115.3 595.3ZM160 520L160 600L155.3 595.3L155.3 524.7ZM200 240L200 280L195.3 275.3L195.3 235.3ZM240 720L240 760L235.3 764.7L235.3 724.7ZM280 120L280 240L275.3 235.3L275.3 115.3ZM280 760L280 840L275.3 844.7L275.3 764.7ZM320 840L320 920L315.3 924.7L315.3 844.7ZM360 920L360 960L355.3 964.7L355.3 924.7ZM400 960L400 1000L395.3 1004.7L395.3 964.7ZM440 80L440 120L435.3 115.3L435.3 75.3ZM440 480L440 520L435.3 515.3L435.3 484.7ZM520 40L520 120L515.3 124.7L515.3 44.7ZM600 120L600 160L595.3 164.7L595.3 124.7ZM600 760L600 800L595.3 804.7L595.3 764.7ZM680 840L680 880L675.3 875.3L675.3 840.0ZM760 160L760 360L757.8 365.4L755.3 164.7ZM760 800L760 840L755.3 835.3L755.3 804.7ZM800 1040L800 1080L795.3 1075.3L795.3 1035.3ZM840 240L840 360L835.3 355.3L835.3 235.3ZM840 1000L840 1040L835.3 1035.3L835.3 995.3ZM880 560L880 600L875.3 595.3L875.3 564.7ZM920 240L920 280L915.3 275.3L915.3 235.3ZM1080 880L1080 920L1075.3 924.7L1075.3 884.7ZM1160 160L1160 200L1155.3 195.3L1155.3 155.3ZM1160 560L1160 600L1155.3 595.3L1155.3 564.7ZM1160 840L1160 960L1155.3 955.3L1155.3 838.1ZM1200 120L1200 160L1195.3 155.3L1195.3 115.3ZM1240 760L1240 960L1235.3 964.7L1235.3 764.7ZM1280 320L1280 360L1275.3 355.3L1275.3 324.7ZM1320 280L1320 320L1315.3 324.7L1315.3 284.7ZM1400 320L1400 360L1395.3 364.7L1395.3 324.7ZM1400 960L1400 1000L1395.3 1004.7L1395.3 964.7ZM1440 360L1440 400L1435.3 395.3L1435.3 364.7ZM1480 1000L1480 1080L1475.3 1084.7L1475.3 1004.7ZM1560 640L1560 680L1555.3 675.3L1555.3 644.7ZM1560 1080L1560 1120L1555.3 1115.3L1555.3 1075.3ZM1600 120L1600 160L1595.3 164.7L1595.3 124.7ZM1640 160L1640 200L1635.3 204.7L1635.3 164.7ZM1680 200L1680 280L1675.3 284.7L1675.3 204.7ZM1720 280L1720 360L1715.3 364.7L1715.3 284.7ZM1720 960L1720 1080L1715.3 1075.3L1715.3 955.3ZM1760 360L1760 400L1755.3 401.9L1755.3 364.7ZM1800 920L1800 960L1795.3 955.3L1795.3 918.1ZM1880 440L1880 600L1875.3 595.3L1875.3 444.7ZM1920 680L1920 800L1915.3 798.1L1915.3 681.9Z" fill="#2d2c31" stroke="#2d2c31"/>
<path d="M40 480L120 560L125.4 562.2L44.7 478.1ZM160 720L200 760L204.7 758.1L161.9 715.3ZM480 1040L520 1080L521.9 1075.3L481.9 1035.3ZM1280 320L1320 360L1321.9 355.3L1285.4 322.2ZM1440 120L1480 160L1481.9 155.3L1441.9 115.3ZM1760 440L1800 480L1801.9 475.3L1761.9 435.3Z" fill="#242328" stroke="#242328"/>
<path d="M80 720L160 720L161.9 715.3L84.7 715.3ZM120 600L160 600L155.3 595.3L115.3 595.3ZM160 280L200 280L195.3 275.3L158.1 275.3ZM200 240L280 240L275.3 235.3L195.3 235.3ZM200 800L240 800L244.7 795.3L204.7 795.3ZM240 880L280 880L284.7 875.3L244.7 875.3ZM280 120L440 120L435.3 115.3L275.3 115.3ZM280 960L320 960L324.7 955.3L284.7 955.3ZM320 1000L360 1000L364.7 995.3L324.7 995.3ZM360 1040L480 1040L481.9 1035.3L364.7 1035.3ZM400 520L440 520L435.3 515.3L404.7 515.3ZM440 80L480 80L484.7 75.3L435.3 75.3ZM480 160L560 160L564.7 155.3L484.7 155.3ZM520 800L560 800L564.7 795.3L524.7 795.3ZM520 1080L800 1080L795.3 1075.3L521.9 1075.3ZM560 200L720 200L724.7 195.3L564.7 195.3ZM560 840L640 840L644.7 835.3L564.7 835.3ZM640 880L680 880L675.3 875.3L644.7 875.3ZM680 840L760 840L755.3 835.3L684.7 835.3ZM720 400L760 400L758.1 395.3L724.7 395.3ZM800 360L840 360L835.3 355.3L798.1 355.3ZM800 600L880 600L875.3 595.3L804.7 595.3ZM800 1040L840 1040L835.3 1035.3L795.3 1035.3ZM840 240L880 240L884.7 235.3L835.3 235.3ZM840 1000L960 1000L958.1 995.3L835.3 995.3ZM880 280L920 280L915.3 275.3L884.7 275.3ZM920 240L960 240L958.1 235.3L915.3 235.3ZM1000 200L1160 200L1155.3 195.3L998.1 195.3ZM1000 960L1160 960L1155.3 955.3L998.1 955.3ZM1080 600L1160 600L1155.3 595.3L1084.7 595.3ZM1160 160L1200 160L1195.3 155.3L1155.3 155.3ZM1200 120L1440 120L1441.9 115.3L1195.3 115.3ZM1200 360L1280 360L1275.3 355.3L1204.7 355.3ZM1200 1000L1360 1000L1364.7 995.3L1204.7 995.3ZM1320 360L1360 360L1364.7 355.3L1321.9 355.3ZM1360 400L1440 400L1435.3 395.3L1364.7 395.3ZM1360 1040L1440 1040L1444.7 1035.3L1364.7 1035.3ZM1440 1120L1560 1120L1555.3 1115.3L1444.7 1115.3ZM1480 160L1560 160L1564.7 155.3L1481.9 155.3ZM1520 680L1560 680L1555.3 675.3L1524.7 675.3ZM1560 200L1600 200L1604.7 195.3L1564.7 195.3ZM1560 1080L1720 1080L1715.3 1075.3L1555.3 1075.3ZM1600 240L1640 240L1644.7 235.3L1604.7 235.3ZM1640 320L1680 320L1684.7 315.3L1644.7 315.3ZM1680 400L1720 400L1724.7 395.3L1684.7 395.3ZM1720 440L1760 440L1761.9 435.3L1724.7 435.3ZM1720 960L1800 960L1795.3 955.3L1715.3 955.3ZM1800 480L1840 480L1844.7 475.3L1801.9 475.3ZM1800 640L1840 640L1844.7 635.3L1804.7 635.3ZM1840 600L1880 600L1875.3 595.3L1834.6 597.8ZM1840 680L1880 680L1884.7 675.3L1844.7 675.3Z" fill="#262529" stroke="#262529"/>
<path d="M120 320L80 360L75.3 358.1L116.7 316.7ZM160 280L120 320L116.7 316.7L158.1 275.3ZM800 360L760 400L758.1 395.3L798.1 355.3ZM1000 200L960 240L958.1 235.3L998.1 195.3ZM1000 960L960 1000L958.1 995.3L998.1 955.3ZM1200 800L1160 840L1155.3 838.1L1202.2 794.6ZM1840 880L1800 920L1795.3 918.1L1836.7 876.7ZM1880 840L1840 880L1836.7 876.7L1876.7 836.7ZM1920 800L1880 840L1876.7 836.7L1915.3 798.1Z" fill="#201f23" stroke="#201f23"/>
</g>
<path d="M400 59h5.7v21h-5.7ZM1160 99h5.7v21h-5.7ZM1120 139h5.7v21h-5.7ZM240 179h5.7v21h-5.7ZM1840 539h5.7v21h-5.7ZM1040 899h5.7v21h-5.7ZM1120 899h5.7v21h-5.7ZM1760 899h5.7v21h-5.7ZM800 979h5.7v21h-5.7ZM760 1019h5.7v21h-5.7ZM1680 1019h5.7v21h-5.7ZM1520 1059h5.7v21h-5.7Z" fill="#4a494f"/>
<path d="M417.3 76.0v24M1177.3 116.0v24M1137.3 156.0v24M257.3 196.0v24M1857.3 556.0v24M1057.3 916.0v24M1137.3 916.0v24M1777.3 916.0v24M817.3 996.0v24M777.3 1036.0v24M1697.3 1036.0v24M1537.3 1076.0v24" stroke="#2c2b30" stroke-width="5" fill="none"/>
<use href="#sS" x="440" y="80"/><use href="#sS" x="1520" y="160"/><use href="#sS" x="1560" y="200"/><use href="#sS" x="840" y="240"/><use href="#sY" x="1160" y="240"/><use href="#sG" x="1440" y="240"/><use href="#sS" x="1600" y="240"/><use href="#sR" x="400" y="280"/><use href="#sS" x="1320" y="280"/><use href="#sT" x="640" y="320"/><use href="#sB" x="1320" y="360"/><use href="#sY" x="1560" y="360"/><use href="#sB" x="80" y="440"/><use href="#sY" x="1720" y="440"/><use href="#sS" x="1800" y="480"/><use href="#sS" x="1800" y="520"/><use href="#sB" x="960" y="560"/><use href="#sS" x="120" y="600"/><use href="#sS" x="120" y="640"/><use href="#sY" x="200" y="680"/><use href="#sB" x="1840" y="680"/><use href="#sY" x="360" y="760"/><use href="#sB" x="600" y="760"/><use href="#sO" x="1280" y="800"/><use href="#sS" x="600" y="840"/><use href="#sL" x="1520" y="840"/><use href="#sS" x="320" y="880"/><use href="#sG" x="480" y="880"/><use href="#sY" x="760" y="880"/><use href="#sS" x="1080" y="880"/><use href="#sS" x="360" y="920"/><use href="#sS" x="400" y="960"/><use href="#sS" x="1480" y="1040"/>
</svg>
</body></html>
